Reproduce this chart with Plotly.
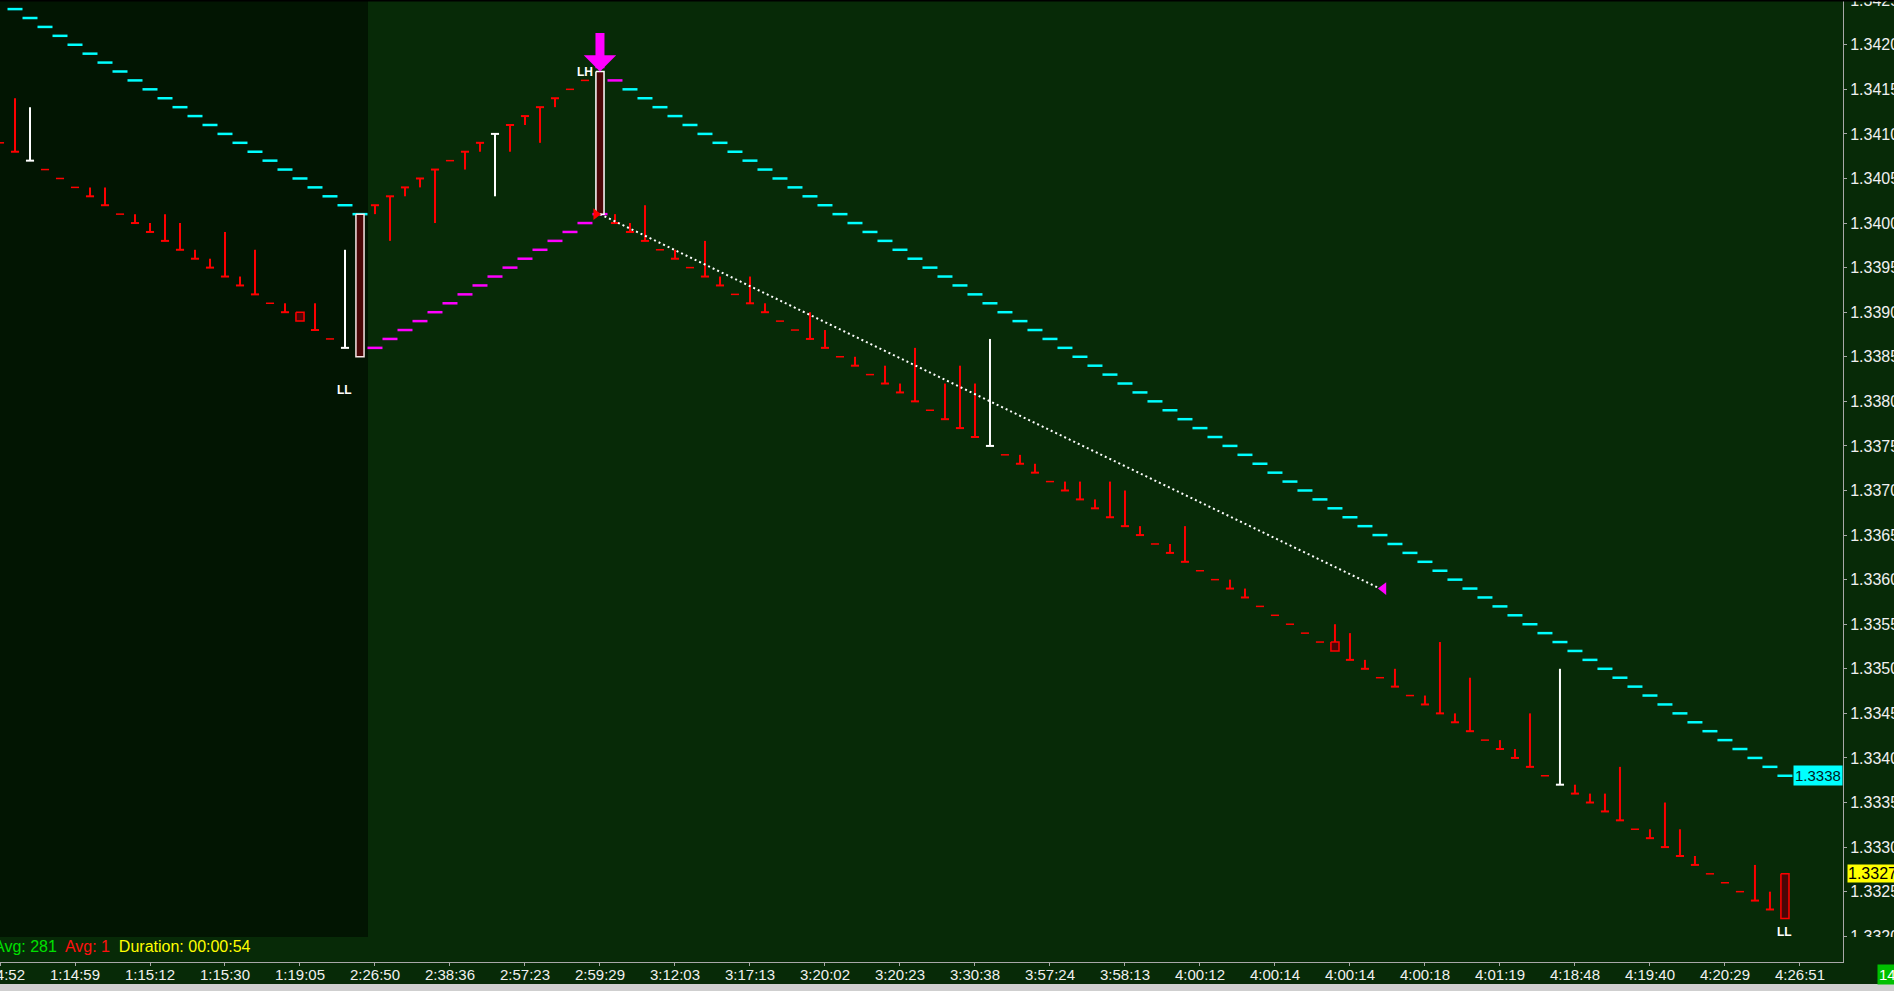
import plotly.graph_objects as go

# ---------------- data ----------------
bar_index = list(range(120))

highs = [1.3409, 1.3414, 1.3413, 1.3406, 1.3405, 1.3404, 1.3404, 1.3404, 1.3401, 1.3401,
         1.3400, 1.3401, 1.3400, 1.3397, 1.3396, 1.3399, 1.3394, 1.3397, 1.3391, 1.3391,
         1.3390, 1.3391, 1.3387, 1.3397, 1.3401, 1.3402, 1.3403, 1.3404, 1.3405, 1.3406,
         1.3407, 1.3408, 1.3409, 1.3410, 1.3411, 1.3412, 1.3413, 1.3414, 1.3415, 1.3416,
         1.3417, 1.3401, 1.3400, 1.3402, 1.3397, 1.3397, 1.3395, 1.3398, 1.3394, 1.3392,
         1.3394, 1.3391, 1.3389, 1.3388, 1.3390, 1.3388, 1.3385, 1.3385, 1.3383, 1.3384,
         1.3382, 1.3386, 1.3379, 1.3382, 1.3384, 1.3382, 1.3387, 1.3374, 1.3374, 1.3373,
         1.3371, 1.3371, 1.3371, 1.3369, 1.3371, 1.3370, 1.3366, 1.3364, 1.3364, 1.3366,
         1.3361, 1.3360, 1.3360, 1.3359, 1.3357, 1.3356, 1.3355, 1.3354, 1.3353, 1.3355,
         1.3354, 1.3351, 1.3349, 1.3350, 1.3347, 1.3347, 1.3353, 1.3345, 1.3349, 1.3342,
         1.3342, 1.3341, 1.3345, 1.3338, 1.3350, 1.3337, 1.3336, 1.3336, 1.3339, 1.3332,
         1.3332, 1.3335, 1.3332, 1.3329, 1.3327, 1.3326, 1.3325, 1.3328, 1.3325, 1.3327]

lows = [1.3409, 1.3408, 1.3407, 1.3406, 1.3405, 1.3404, 1.3403, 1.3402, 1.3401, 1.3400,
        1.3399, 1.3398, 1.3397, 1.3396, 1.3395, 1.3394, 1.3393, 1.3392, 1.3391, 1.3390,
        1.3389, 1.3388, 1.3387, 1.3386, 1.3385, 1.3401, 1.3398, 1.3403, 1.3404, 1.3400,
        1.3407, 1.3406, 1.3408, 1.3403, 1.3408, 1.3411, 1.3409, 1.3413, 1.3415, 1.3416,
        1.3401, 1.3400, 1.3399, 1.3398, 1.3397, 1.3396, 1.3395, 1.3394, 1.3393, 1.3392,
        1.3391, 1.3390, 1.3389, 1.3388, 1.3387, 1.3386, 1.3385, 1.3384, 1.3383, 1.3382,
        1.3381, 1.3380, 1.3379, 1.3378, 1.3377, 1.3376, 1.3375, 1.3374, 1.3373, 1.3372,
        1.3371, 1.3370, 1.3369, 1.3368, 1.3367, 1.3366, 1.3365, 1.3364, 1.3363, 1.3362,
        1.3361, 1.3360, 1.3359, 1.3358, 1.3357, 1.3356, 1.3355, 1.3354, 1.3353, 1.3352,
        1.3351, 1.3350, 1.3349, 1.3348, 1.3347, 1.3346, 1.3345, 1.3344, 1.3343, 1.3342,
        1.3341, 1.3340, 1.3339, 1.3338, 1.3337, 1.3336, 1.3335, 1.3334, 1.3333, 1.3332,
        1.3331, 1.3330, 1.3329, 1.3328, 1.3327, 1.3326, 1.3325, 1.3324, 1.3323, 1.3322]

closes = [1.3409, 1.3408, 1.3407, 1.3406, 1.3405, 1.3404, 1.3403, 1.3402, 1.3401, 1.3400,
          1.3399, 1.3398, 1.3397, 1.3396, 1.3395, 1.3394, 1.3393, 1.3392, 1.3391, 1.3390,
          1.3389, 1.3388, 1.3387, 1.3386, 1.3385, 1.3402, 1.3403, 1.3404, 1.3405, 1.3406,
          1.3407, 1.3408, 1.3409, 1.3410, 1.3411, 1.3412, 1.3413, 1.3414, 1.3415, 1.3416,
          1.3401, 1.3400, 1.3399, 1.3398, 1.3397, 1.3396, 1.3395, 1.3394, 1.3393, 1.3392,
          1.3391, 1.3390, 1.3389, 1.3388, 1.3387, 1.3386, 1.3385, 1.3384, 1.3383, 1.3382,
          1.3381, 1.3380, 1.3379, 1.3378, 1.3377, 1.3376, 1.3375, 1.3374, 1.3373, 1.3372,
          1.3371, 1.3370, 1.3369, 1.3368, 1.3367, 1.3366, 1.3365, 1.3364, 1.3363, 1.3362,
          1.3361, 1.3360, 1.3359, 1.3358, 1.3357, 1.3356, 1.3355, 1.3354, 1.3353, 1.3352,
          1.3351, 1.3350, 1.3349, 1.3348, 1.3347, 1.3346, 1.3345, 1.3344, 1.3343, 1.3342,
          1.3341, 1.3340, 1.3339, 1.3338, 1.3337, 1.3336, 1.3335, 1.3334, 1.3333, 1.3332,
          1.3331, 1.3330, 1.3329, 1.3328, 1.3327, 1.3326, 1.3325, 1.3324, 1.3323, 1.3322]

white_bars = [2, 23, 33, 66, 104]

box_bars = [20, 24, 40, 89, 119]
box_opens = [1.3390, 1.3401, 1.3417, 1.3353, 1.3327]
box_outlines = ["#ff0000", "#f6e4e4", "#ffffff", "#ff0000", "#ff0000"]

cyan_bars = list(range(1, 25)) + list(range(42, 120))
cyan_levels = [1.3424, 1.3423, 1.3422, 1.3421, 1.3420, 1.3419, 1.3418, 1.3417, 1.3416, 1.3415,
               1.3414, 1.3413, 1.3412, 1.3411, 1.3410, 1.3409, 1.3408, 1.3407, 1.3406, 1.3405,
               1.3404, 1.3403, 1.3402, 1.3401,
               1.3415, 1.3414, 1.3413, 1.3412, 1.3411, 1.3410, 1.3409, 1.3408, 1.3407, 1.3406,
               1.3405, 1.3404, 1.3403, 1.3402, 1.3401, 1.3400, 1.3399, 1.3398, 1.3397, 1.3396,
               1.3395, 1.3394, 1.3393, 1.3392, 1.3391, 1.3390, 1.3389, 1.3388, 1.3387, 1.3386,
               1.3385, 1.3384, 1.3383, 1.3382, 1.3381, 1.3380, 1.3379, 1.3378, 1.3377, 1.3376,
               1.3375, 1.3374, 1.3373, 1.3372, 1.3371, 1.3370, 1.3369, 1.3368, 1.3367, 1.3366,
               1.3365, 1.3364, 1.3363, 1.3362, 1.3361, 1.3360, 1.3359, 1.3358, 1.3357, 1.3356,
               1.3355, 1.3354, 1.3353, 1.3352, 1.3351, 1.3350, 1.3349, 1.3348, 1.3347, 1.3346,
               1.3345, 1.3344, 1.3343, 1.3342, 1.3341, 1.3340, 1.3339, 1.3338]

magenta_bars = list(range(25, 42))
magenta_levels = [1.3386, 1.3387, 1.3388, 1.3389, 1.3390, 1.3391, 1.3392, 1.3393, 1.3394,
                  1.3395, 1.3396, 1.3397, 1.3398, 1.3399, 1.3400, 1.3401, 1.3416]

trend_bars = [40, 92]
trend_levels = [1.3401, 1.3359]

swing_labels = ["LL", "LH", "LL"]
swing_bars = [23, 39, 119]
swing_levels = [1.33813, 1.3417, 1.33205]

signal_bar = 40
signal_level = 1.3417

stop_level_label = 1.3338
last_price = 1.3327

time_label_bars = list(range(0, 121, 5))
time_labels = ["1:14:52", "1:14:59", "1:15:12", "1:15:30", "1:19:05", "2:26:50", "2:38:36",
               "2:57:23", "2:59:29", "3:12:03", "3:17:13", "3:20:02", "3:20:23", "3:30:38",
               "3:57:24", "3:58:13", "4:00:12", "4:00:14", "4:00:14", "4:00:18", "4:01:19",
               "4:18:48", "4:19:40", "4:20:29", "4:26:51"]

# ---------------- styling ----------------
BG = "#072a07"
DARK = "#021502"
FONT = "Liberation Sans, Arial, sans-serif"
HT = 0.27      # half width of tick / dash / box, in bars
HS = 0.5       # half width of a stop-line step, in bars

fig = go.Figure()


def steps(bars, levels):
    xs, ys = [], []
    for b, v in zip(bars, levels):
        xs += [b - HS, b + HS, None]
        ys += [v, v, None]
    return xs, ys


cx, cy = steps(cyan_bars, cyan_levels)
fig.add_trace(go.Scatter(x=cx, y=cy, mode="lines", line=dict(color="#00ffff", width=2.5),
                         hoverinfo="skip"))
mx, my = steps(magenta_bars, magenta_levels)
fig.add_trace(go.Scatter(x=mx, y=my, mode="lines", line=dict(color="#ff00ff", width=2.5),
                         hoverinfo="skip"))

# bars
groups = {"#ff0000": ([], []), "#ffffff": ([], [])}
dash_x, dash_y = [], []
for i, h, l, c in zip(bar_index, highs, lows, closes):
    col = "#ffffff" if i in white_bars else "#ff0000"
    gx, gy = groups[col]
    if i in box_bars:
        k = box_bars.index(i)
        top = max(box_opens[k], c)
        if h - top > 1e-9:
            gx += [i, i, None]
            gy += [top, h, None]
        continue
    if abs(h - l) < 1e-9:
        dash_x += [i - HT, i + HT, None]
        dash_y += [h, h, None]
        continue
    gx += [i, i, None, i - HT, i + HT, None]
    gy += [l, h, None, c, c, None]

for col, (gx, gy) in groups.items():
    fig.add_trace(go.Scatter(x=gx, y=gy, mode="lines", line=dict(color=col, width=2),
                             hoverinfo="skip"))
fig.add_trace(go.Scatter(x=dash_x, y=dash_y, mode="lines", line=dict(color="#ff0000", width=1.5),
                         hoverinfo="skip"))

# box candles
for k, b in enumerate(box_bars):
    top = box_opens[k]
    bot = closes[b]
    fig.add_trace(go.Scatter(x=[b - HT, b + HT, b + HT, b - HT, b - HT],
                             y=[top, top, bot, bot, top], mode="lines", fill="toself",
                             fillcolor="#4a0606", line=dict(color=box_outlines[k], width=1.5),
                             hoverinfo="skip"))

# trend line
fig.add_trace(go.Scatter(x=trend_bars, y=trend_levels, mode="lines",
                         line=dict(color="#ffffff", width=2, dash="2px,3px"), hoverinfo="skip"))
fig.add_trace(go.Scatter(x=[trend_bars[-1] + 0.23], y=[trend_levels[-1]], mode="markers",
                         marker=dict(symbol="triangle-left", size=11, color="#ff00ff"),
                         hoverinfo="skip"))
fig.add_trace(go.Scatter(x=[trend_bars[0] - 0.27], y=[trend_levels[0]], mode="markers",
                         marker=dict(symbol="triangle-right", size=10, color="#ff0000"),
                         hoverinfo="skip"))

annotations = []
for lab, b, v in zip(swing_labels, swing_bars, swing_levels):
    annotations.append(dict(x=b, y=v, xref="x", yref="y", text="<b>" + lab + "</b>",
                            showarrow=False, font=dict(family=FONT, size=12, color="#ffffff")))

annotations.append(dict(x=signal_bar, y=signal_level, xref="x", yref="y", text="",
                        showarrow=True, ax=0, ay=-40, arrowcolor="#ff00ff", arrowwidth=9,
                        arrowhead=1, arrowsize=0.6, standoff=0))

annotations.append(dict(x=1, y=stop_level_label, xref="paper", yref="y", xanchor="right",
                        yanchor="middle", text="1.3338", showarrow=False, bgcolor="#00ffff",
                        borderpad=1, font=dict(family=FONT, size=15, color="#002020")))
annotations.append(dict(x=1, y=last_price, xref="paper", yref="y", xanchor="left",
                        yanchor="middle", xshift=4, text="1.3327", showarrow=False,
                        bgcolor="#ffff00", borderpad=0,
                        font=dict(family=FONT, size=16, color="#000000")))
annotations.append(dict(x=1.0185, y=-0.0125, xref="paper", yref="paper", xanchor="left",
                        yanchor="middle", text="14", showarrow=False, bgcolor="#00c000",
                        borderpad=1, font=dict(family=FONT, size=15, color="#ffffff")))
annotations.append(dict(x=0, y=0.0156, xref="paper", yref="paper", xanchor="left",
                        yanchor="middle", xshift=-8, showarrow=False,
                        text="<span style='color:#00e000'>Avg: 281</span>&nbsp; "
                             "<span style='color:#ff1010'>Avg: 1</span>&nbsp; "
                             "<span style='color:#ffff00'>Duration: 00:00:54</span>",
                        font=dict(family=FONT, size=16, color="#00e000")))

shapes = [
    dict(type="rect", xref="x", yref="paper", x0=-1, x1=box_bars[1] + 0.53, y0=0.026, y1=1,
         fillcolor=DARK, line=dict(width=0), layer="below"),
    dict(type="rect", xref="paper", yref="paper", x0=1.0006, x1=1.05, y0=0.0, y1=0.026,
         fillcolor=BG, line=dict(width=0), layer="above"),
    dict(type="line", xref="paper", yref="paper", x0=0, x1=1.05, y0=1, y1=1,
         line=dict(color="#000000", width=3), layer="above"),
    dict(type="rect", xref="paper", yref="paper", x0=0, x1=1.05, y0=-0.0315, y1=-0.0229,
         fillcolor="#cfcfcf", line=dict(width=0), layer="above"),
]

fig.update_layout(
    width=1894, height=991,
    margin=dict(l=0, r=51, t=0, b=29, pad=0),
    paper_bgcolor=BG, plot_bgcolor=BG,
    showlegend=False,
    annotations=annotations,
    shapes=shapes,
    xaxis=dict(range=[0, 122.87], tickmode="array", tickvals=time_label_bars,
               ticktext=time_labels, ticks="outside", ticklen=3, tickcolor="#a8a8a8",
               showline=True, linecolor="#a8a8a8", linewidth=1, showgrid=False,
               zeroline=False, automargin=False, ticklabeloverflow="allow",
               ticklabelstandoff=-4,
               tickfont=dict(family=FONT, size=15, color="#f0f0f0")),
    yaxis=dict(side="right", range=[1.331711, 1.342502], tick0=1.3320, dtick=0.0005,
               tickformat=".4f", ticks="outside", ticklen=3, tickcolor="#a8a8a8",
               showline=True, linecolor="#a8a8a8", linewidth=1, showgrid=False,
               zeroline=False, automargin=False, ticklabeloverflow="allow",
               tickfont=dict(family=FONT, size=16, color="#f0f0f0")),
)

fig.write_html(
    "out.html",
    config={"displayModeBar": False},
    post_script=("document.body.style.margin='0';document.body.style.overflow='hidden';"
                 "document.documentElement.style.overflow='hidden';"),
)
